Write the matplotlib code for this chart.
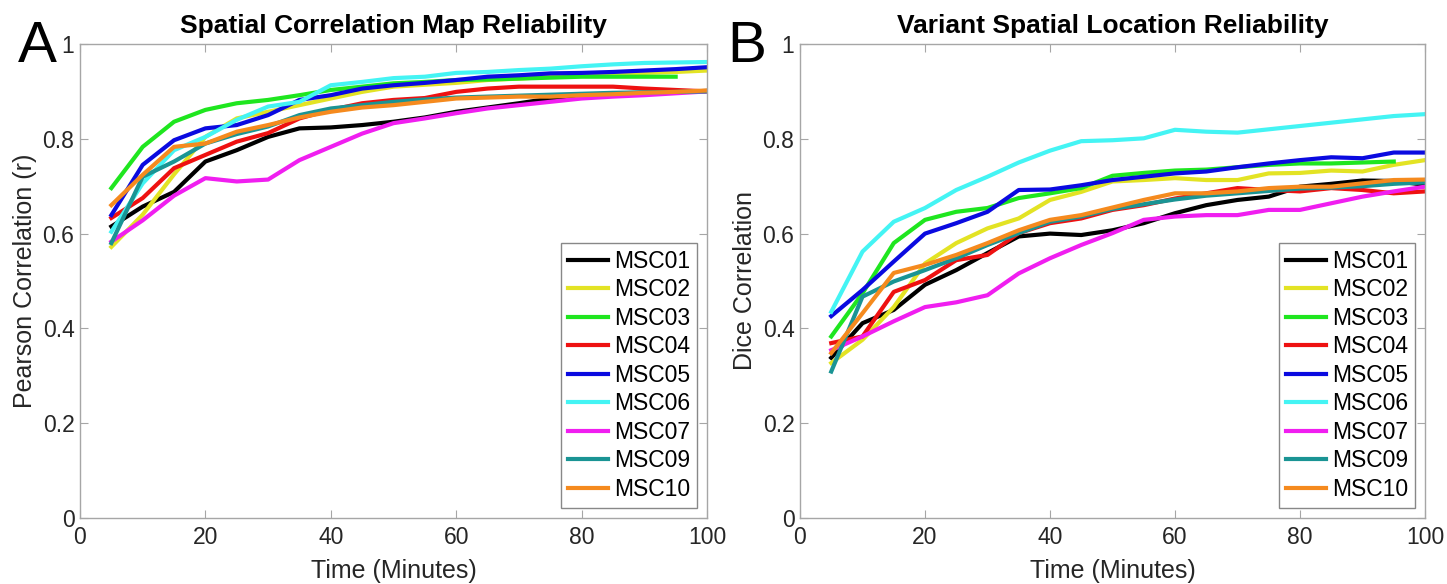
import matplotlib
matplotlib.use("Agg")
import matplotlib.pyplot as plt

plt.rcParams['font.family'] = ['Liberation Sans', 'DejaVu Sans']

minutes = [5, 10, 15, 20, 25, 30, 35, 40, 45, 50, 55, 60, 65, 70, 75, 80, 85, 90, 95, 100]
subjects = ["MSC01", "MSC02", "MSC03", "MSC04", "MSC05", "MSC06", "MSC07", "MSC09", "MSC10"]
colors = ["#000000", "#e3e324", "#1fe61f", "#ee1111", "#0a0ae0", "#44f4f4", "#f01ef0", "#1a9494", "#f58a1e"]

# Panel A: Pearson correlation
pearson_msc01 = [0.615, 0.657, 0.688, 0.752, 0.776, 0.804, 0.822, 0.824, 0.829, 0.836, 0.845, 0.857, 0.866, 0.875, 0.885, 0.892, 0.896, 0.897, 0.899, 0.901]
pearson_msc02 = [0.572, 0.640, 0.725, 0.804, 0.843, 0.857, 0.871, 0.885, 0.899, 0.910, 0.914, 0.918, 0.924, 0.927, 0.931, 0.934, 0.938, 0.939, 0.941, 0.944]
pearson_msc03 = [0.696, 0.783, 0.836, 0.861, 0.875, 0.882, 0.892, 0.903, 0.910, 0.917, 0.920, 0.924, 0.925, 0.927, 0.929, 0.931, 0.931, 0.931, 0.931]
pearson_msc04 = [0.633, 0.675, 0.738, 0.766, 0.794, 0.812, 0.843, 0.861, 0.875, 0.882, 0.886, 0.899, 0.906, 0.910, 0.910, 0.910, 0.910, 0.906, 0.903, 0.900]
pearson_msc05 = [0.639, 0.745, 0.797, 0.822, 0.829, 0.850, 0.882, 0.892, 0.906, 0.913, 0.918, 0.924, 0.931, 0.934, 0.938, 0.939, 0.941, 0.944, 0.947, 0.951]
pearson_msc06 = [0.604, 0.706, 0.776, 0.804, 0.840, 0.868, 0.878, 0.913, 0.920, 0.928, 0.931, 0.939, 0.941, 0.945, 0.948, 0.953, 0.957, 0.960, 0.961, 0.962]
pearson_msc07 = [0.583, 0.628, 0.680, 0.717, 0.710, 0.714, 0.755, 0.783, 0.811, 0.833, 0.843, 0.854, 0.864, 0.871, 0.878, 0.885, 0.889, 0.892, 0.896, 0.900]
pearson_msc09 = [0.580, 0.720, 0.752, 0.790, 0.810, 0.826, 0.850, 0.864, 0.871, 0.878, 0.883, 0.887, 0.889, 0.891, 0.893, 0.895, 0.897, 0.898, 0.899, 0.900]
pearson_msc10 = [0.660, 0.724, 0.783, 0.790, 0.815, 0.829, 0.845, 0.857, 0.866, 0.871, 0.878, 0.885, 0.887, 0.889, 0.889, 0.892, 0.894, 0.897, 0.899, 0.902]

# Panel B: Dice correlation
dice_msc01 = [0.338, 0.411, 0.439, 0.492, 0.523, 0.559, 0.594, 0.600, 0.597, 0.607, 0.622, 0.643, 0.660, 0.671, 0.678, 0.699, 0.705, 0.712, 0.711, 0.703]
dice_msc02 = [0.327, 0.376, 0.445, 0.537, 0.580, 0.611, 0.632, 0.671, 0.688, 0.710, 0.713, 0.717, 0.713, 0.713, 0.727, 0.728, 0.733, 0.731, 0.745, 0.755]
dice_msc03 = [0.383, 0.474, 0.580, 0.629, 0.646, 0.654, 0.675, 0.685, 0.696, 0.722, 0.728, 0.733, 0.735, 0.740, 0.745, 0.748, 0.748, 0.750, 0.752]
dice_msc04 = [0.369, 0.383, 0.477, 0.502, 0.544, 0.555, 0.601, 0.622, 0.632, 0.650, 0.660, 0.674, 0.685, 0.696, 0.692, 0.689, 0.696, 0.692, 0.685, 0.689]
dice_msc05 = [0.426, 0.481, 0.541, 0.600, 0.622, 0.646, 0.692, 0.693, 0.702, 0.713, 0.720, 0.727, 0.731, 0.740, 0.748, 0.755, 0.761, 0.759, 0.771, 0.771]
dice_msc06 = [0.435, 0.562, 0.625, 0.654, 0.692, 0.720, 0.750, 0.775, 0.795, 0.797, 0.801, 0.819, 0.815, 0.813, 0.820, 0.827, 0.834, 0.841, 0.848, 0.852]
dice_msc07 = [0.354, 0.383, 0.415, 0.445, 0.455, 0.470, 0.516, 0.548, 0.576, 0.601, 0.629, 0.636, 0.639, 0.639, 0.650, 0.650, 0.664, 0.678, 0.689, 0.699]
dice_msc09 = [0.309, 0.467, 0.499, 0.523, 0.548, 0.576, 0.601, 0.625, 0.636, 0.652, 0.662, 0.672, 0.680, 0.685, 0.690, 0.695, 0.697, 0.700, 0.705, 0.708]
dice_msc10 = [0.348, 0.432, 0.517, 0.534, 0.555, 0.580, 0.607, 0.629, 0.639, 0.655, 0.671, 0.685, 0.685, 0.689, 0.696, 0.699, 0.699, 0.706, 0.713, 0.714]

pearson = [pearson_msc01, pearson_msc02, pearson_msc03, pearson_msc04, pearson_msc05,
           pearson_msc06, pearson_msc07, pearson_msc09, pearson_msc10]
dice = [dice_msc01, dice_msc02, dice_msc03, dice_msc04, dice_msc05,
        dice_msc06, dice_msc07, dice_msc09, dice_msc10]

xticks = [0, 20, 40, 60, 80, 100]
yticks = [0, 0.2, 0.4, 0.6, 0.8, 1]
ytick_labels = ["0", "0.2", "0.4", "0.6", "0.8", "1"]

W, H = 1447, 584
fig = plt.figure(figsize=(W / 100, H / 100), dpi=100)

spine_color = "#a6a6a6"
text_color = "#262626"

def make_axes(left_px, right_px, data, title, ylabel, letter, letter_x):
    bottom_px, top_px = 518, 44
    ax = fig.add_axes([left_px / W, 1 - bottom_px / H, (right_px - left_px) / W, (bottom_px - top_px) / H])
    for name, vals, col in zip(subjects, data, colors):
        ax.plot(minutes[:len(vals)], vals, color=col, lw=3.0, label=name, solid_joinstyle='round')
    ax.set_xlim(0, 100)
    ax.set_ylim(0, 1)
    ax.set_xticks(xticks)
    ax.set_yticks(yticks)
    ax.set_yticklabels(ytick_labels)
    ax.tick_params(direction='in', length=6, width=0.8, color=spine_color, labelcolor=text_color,
                   labelsize=16.5, top=True, right=True)
    ax.tick_params(axis='x', pad=6)
    ax.tick_params(axis='y', pad=4)
    for s in ax.spines.values():
        s.set_color(spine_color)
        s.set_linewidth(1.0)
    ax.set_title(title, fontsize=19, fontweight='bold', color='black', pad=8)
    ax.set_xlabel("Time (Minutes)", fontsize=18, color=text_color, labelpad=7)
    ax.set_ylabel(ylabel, fontsize=18, color=text_color, labelpad=4)
    leg = ax.legend(loc='lower right', fontsize=16.5, frameon=True, fancybox=False,
                    edgecolor='#888888', framealpha=1, handlelength=1.75, handletextpad=0.25,
                    labelspacing=0.24, borderpad=0.3, borderaxespad=0.45)
    leg.get_frame().set_linewidth(1.0)
    fig.text(letter_x / W, 1 - 62 / H, letter, fontsize=42, color='black', ha='left', va='baseline')
    return ax

make_axes(80, 707, pearson, "Spatial Correlation Map Reliability", "Pearson Correlation (r)", "A", 18)
make_axes(800, 1425, dice, "Variant Spatial Location Reliability", "Dice Correlation", "B", 727)

fig.savefig("out.png", dpi=100)
